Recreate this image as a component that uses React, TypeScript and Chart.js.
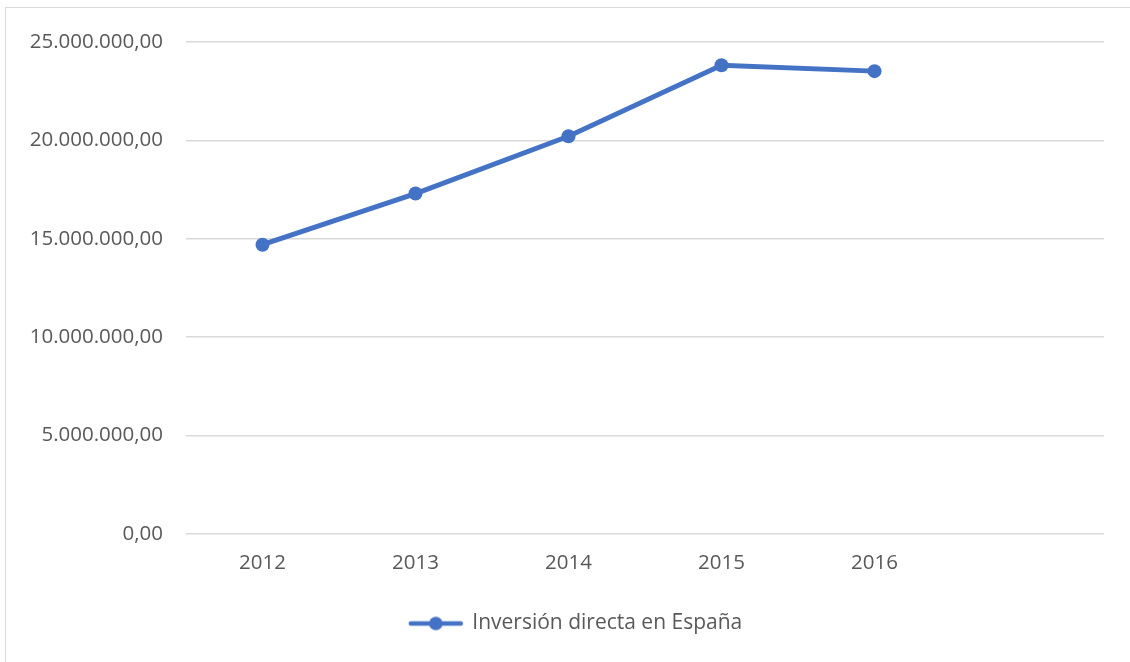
import React, { useEffect, useRef } from "react";
import { Chart, registerables } from "chart.js";

Chart.register(...registerables);

const categories = ["2012", "2013", "2014", "2015", "2016", ""];
const inversion = [14700000, 17300000, 20210000, 23820000, 23520000, null];
const seriesLabel = "Inversión directa en España";
const yTicks = [0, 5000000, 10000000, 15000000, 20000000, 25000000];

const BLUE = "#4472C4";
const TEXT = "#595959";
const GRID = "#d9d9d9";
const FONT = "'Open Sans', 'Liberation Sans', sans-serif";

function fmt(v: number): string {
  const intPart = Math.round(v).toString().replace(/\B(?=(\d{3})+(?!\d))/g, ".");
  return intPart + ",00";
}

function makeLegendIcon(): HTMLCanvasElement {
  const c = document.createElement("canvas");
  c.width = 56;
  c.height = 16;
  const ctx = c.getContext("2d")!;
  ctx.strokeStyle = BLUE;
  ctx.lineWidth = 4.5;
  ctx.lineCap = "round";
  ctx.beginPath();
  ctx.moveTo(3, 8);
  ctx.lineTo(53, 8);
  ctx.stroke();
  ctx.fillStyle = BLUE;
  ctx.beginPath();
  ctx.arc(28, 8, 6.8, 0, Math.PI * 2);
  ctx.fill();
  return c;
}

const legendShift = {
  id: "legendShift",
  afterLayout(chart: any) {
    const lg = chart.legend;
    if (lg) {
      lg.left += 24;
      lg.right += 24;
    }
  },
};

export default function App() {
  const ref = useRef<HTMLCanvasElement | null>(null);

  useEffect(() => {
    if (!ref.current) return;
    const icon = makeLegendIcon();
    const chart = new Chart(ref.current, {
      type: "line",
      data: {
        labels: categories,
        datasets: [
          {
            label: seriesLabel,
            data: inversion,
            borderColor: BLUE,
            backgroundColor: BLUE,
            borderWidth: 5,
            pointRadius: 7,
            pointBackgroundColor: BLUE,
            pointBorderColor: BLUE,
            pointBorderWidth: 0,
            tension: 0,
            spanGaps: false,
          },
        ],
      },
      plugins: [legendShift],
      options: {
        responsive: false,
        animation: false,
        layout: { padding: { left: 0, right: 26, top: 42, bottom: 18 } },
        plugins: {
          tooltip: { enabled: false },
          legend: {
            position: "bottom",
            labels: {
              usePointStyle: true,
              pointStyle: icon as any,
              pointStyleWidth: 52,
              padding: 10,
              color: TEXT,
              font: { family: FONT, size: 21 },
            },
          },
        },
        scales: {
          x: {
            offset: true,
            grid: { display: false, drawTicks: false },
            border: { display: false },
            ticks: {
              color: TEXT,
              font: { family: FONT, size: 20.5 },
              padding: 17,
              maxRotation: 0,
            },
            afterFit: (s: any) => {
              s.height = 69;
            },
          },
          y: {
            min: 0,
            max: 25000000,
            afterBuildTicks: (s: any) => {
              s.ticks = yTicks.map((v) => ({ value: v }));
            },
            grid: { color: GRID, lineWidth: 1.5, drawTicks: false },
            border: { display: false },
            ticks: {
              color: TEXT,
              font: { family: FONT, size: 20.5 },
              padding: 23,
              callback: (v: any) => fmt(Number(v)),
            },
            afterFit: (s: any) => {
              s.width = 186;
            },
          },
        },
      },
    });
    return () => chart.destroy();
  }, []);

  return (
    <div
      style={{
        position: "fixed",
        left: 0,
        top: 0,
        width: 1130,
        height: 662,
        background: "#fff",
        overflow: "hidden",
      }}
    >
      <div
        style={{
          position: "absolute",
          left: 5,
          top: 7,
          right: -10,
          bottom: -10,
          borderTop: "1.5px solid " + GRID,
          borderLeft: "1.5px solid " + GRID,
        }}
      />
      <canvas
        ref={ref}
        width={1130}
        height={662}
        style={{ position: "absolute", left: 0, top: 0, width: 1130, height: 662 }}
      />
    </div>
  );
}
